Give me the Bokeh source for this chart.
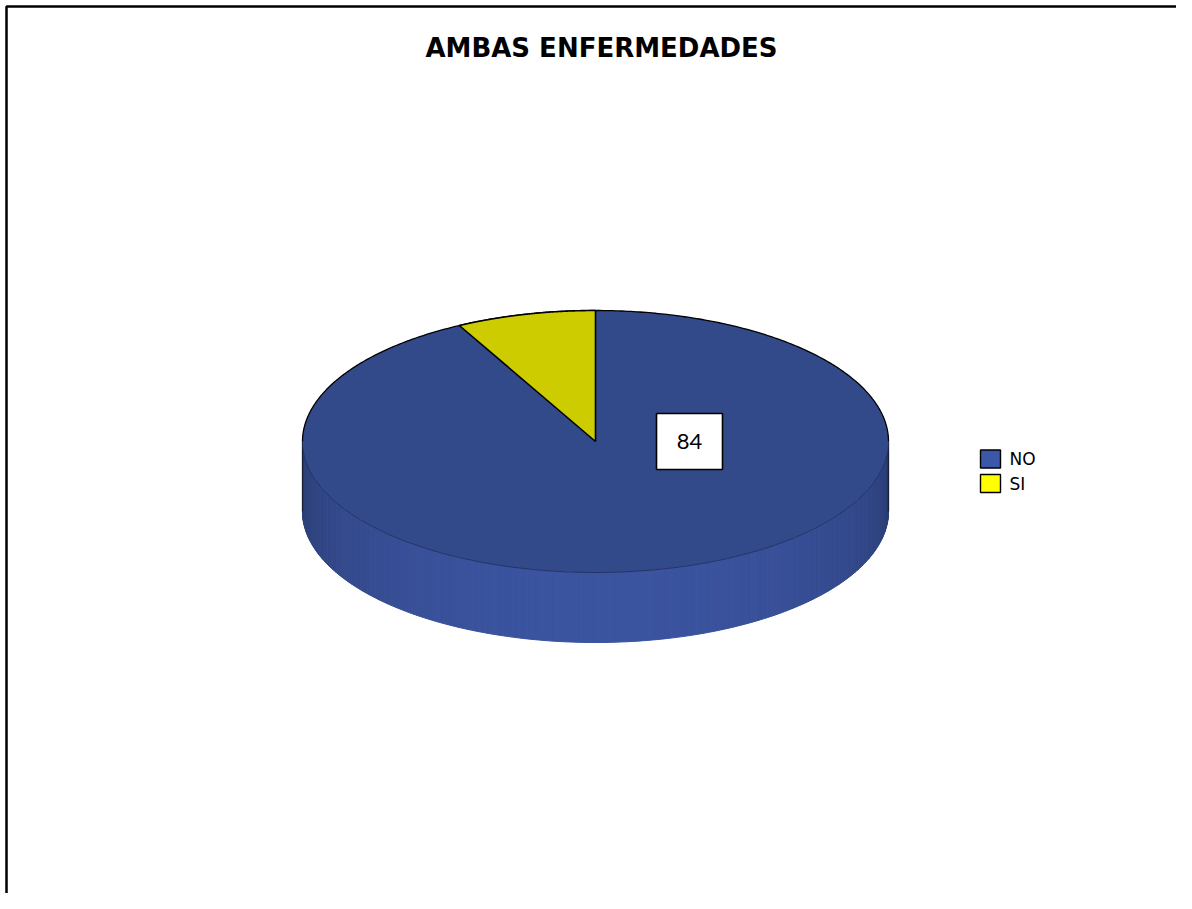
import numpy as np
from bokeh.plotting import figure
from bokeh.models import Range1d
from bokeh.core.properties import value
from bokeh.embed import file_html
from bokeh.resources import INLINE

# ---------------- data ----------------
title_text = "AMBAS ENFERMEDADES"
categories = ["NO", "SI"]
values = [84, 7]
shown_labels = ["84", None]
top_colors = ["#324A8A", "#CCCC00"]
side_mid_colors = [(59, 84, 160), (205, 205, 0)]
legend_colors = ["#3C56A8", "#FFFF00"]

# ---------------- layout ----------------
W, H = 1176, 893
p = figure(width=W, height=H, x_range=Range1d(0, W), y_range=Range1d(H, 0),
           output_backend="svg", toolbar_location=None,
           x_axis_location=None, y_axis_location=None, min_border=0, title=None)
p.grid.visible = False
p.outline_line_color = None
p.background_fill_color = "white"
p.border_fill_color = "white"

cx, cy, rx, ry, depth = 595, 441, 293, 131, 70

total = float(sum(values))
fracs = np.array(values) / total
cum = np.concatenate([[0], np.cumsum(fracs)])


def ell(t):
    return cx + rx * np.cos(t), cy - ry * np.sin(t)


def slice_of(t):
    c = ((np.pi / 2 - t) % (2 * np.pi)) / (2 * np.pi)
    for i in range(len(values)):
        if cum[i] <= c < cum[i + 1]:
            return i
    return len(values) - 1


def hexc(rgb):
    return "#%02x%02x%02x" % tuple(int(round(max(0, min(255, v)))) for v in rgb)


# ---- side wall (front half) with gradient ----
n = 240
ts = np.linspace(np.pi, 2 * np.pi, n + 1)
xs_s, ys_s, cs_s = [], [], []
for k in range(n):
    t1, t2 = ts[k], ts[k + 1]
    x1, y1 = ell(t1)
    x2, y2 = ell(t2)
    tm = 0.5 * (t1 + t2)
    i = slice_of(tm)
    f = np.sqrt(max(0.0, 1 - np.cos(tm) ** 2))
    shade = 0.70 + 0.30 * f ** 0.8
    col = [c * shade for c in side_mid_colors[i]]
    xs_s.append([x1, x2, x2, x1])
    ys_s.append([y1, y2, y2 + depth, y1 + depth])
    cs_s.append(hexc(col))
p.patches(xs_s, ys_s, fill_color=cs_s, line_color=cs_s, line_width=1)

# side outer edges
p.segment(x0=[cx - rx, cx + rx], y0=[cy, cy], x1=[cx - rx, cx + rx], y1=[cy + depth, cy + depth],
          line_color="#1a1f33", line_width=1.3)

# ---- top slices ----
start = np.pi / 2
wedges = []
for i, v in enumerate(values):
    a1 = start
    a2 = start - 2 * np.pi * v / total
    tt = np.linspace(a1, a2, 300)
    ex, ey = ell(tt)
    wedges.append(([cx] + list(ex) + [cx], [cy] + list(ey) + [cy], (a1 + a2) / 2))
    start = a2

p.patch(wedges[0][0], wedges[0][1], fill_color=top_colors[0], line_color=None)

# rim lines of the top ellipse
tb = np.linspace(0, np.pi, 300)
bx, by = ell(tb)
p.line(bx, by, line_color="black", line_width=1.3)
tf = np.linspace(np.pi, 2 * np.pi, 300)
fx, fy = ell(tf)
p.line(fx, fy, line_color="#22305e", line_width=0.9)

for i in range(1, len(values)):
    p.patch(wedges[i][0], wedges[i][1], fill_color=top_colors[i], line_color="black", line_width=1.6)

# ---- data label ----
for i, lab in enumerate(shown_labels):
    if lab is None:
        continue
    lx, ly = cx + 94, cy
    p.rect(x=[lx], y=[ly], width=66, height=56, fill_color="white", line_color="black", line_width=1.6)
    p.text(x=[lx], y=[ly], text=[lab], text_font=value("Lato"), text_font_size="22px",
           text_align="center", text_baseline="middle", text_color="black")

# ---- title ----
p.text(x=[601], y=[47], text=[title_text], text_font=value("DejaVu Sans"), text_font_style="bold",
       text_font_size="26px", text_align="center", text_baseline="middle", text_color="black")

# ---- legend ----
ly0, dy = 458.5, 24.5
lys = [ly0 + i * dy for i in range(len(categories))]
p.rect(x=[990] * len(categories), y=lys, width=20, height=18, fill_color=legend_colors,
       line_color="black", line_width=1.4)
p.text(x=[1009] * len(categories), y=lys, text=categories, text_font=value("DejaVu Sans"),
       text_font_size="17px", text_align="left", text_baseline="middle", text_color="black")

# ---- outer chart border (right/bottom lie outside the view) ----
p.quad(left=[6], right=[3000], top=[6], bottom=[3000], fill_color=None, line_color="black", line_width=2.5)

open("out.html", "w").write(file_html(p, INLINE))
